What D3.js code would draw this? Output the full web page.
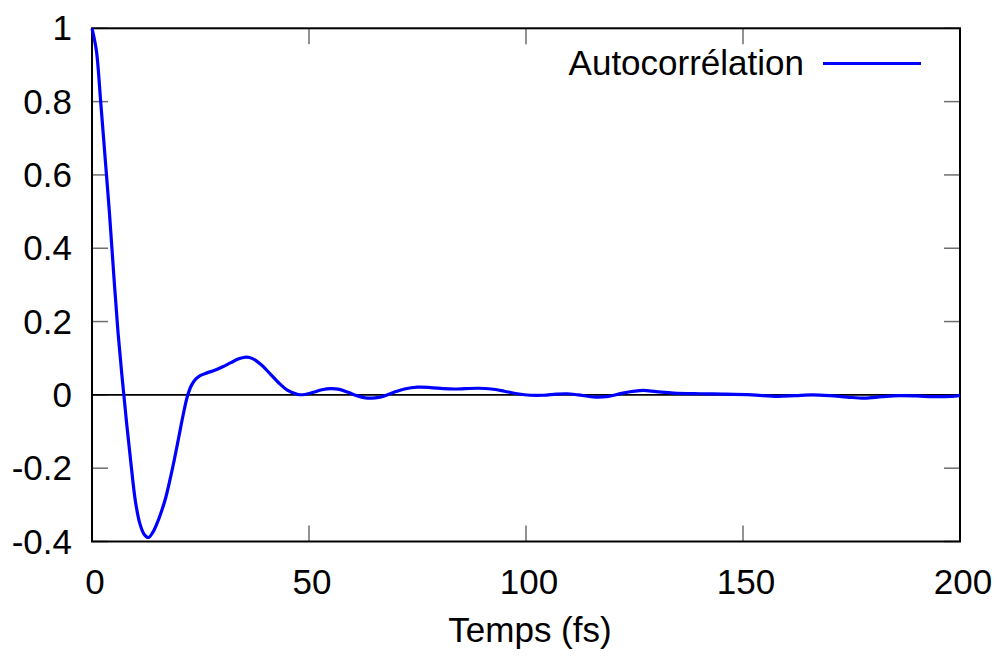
<!DOCTYPE html>
<html>
<head>
<meta charset="utf-8">
<script src="https://cdn.jsdelivr.net/npm/d3@7"></script>
<style>
  html, body { margin: 0; padding: 0; background: #fff; }
  svg { display: block; }
  text { font-family: "Liberation Sans", Arial, sans-serif; fill: #000; }
</style>
</head>
<body>
<svg id="chart" width="997" height="660"></svg>
<script>
// ---- data ----
const seriesName = "Autocorrélation";
const xTitle = "Temps (fs)";
const time = [0, 1, 2, 3, 4, 5, 6, 7, 8, 9, 10, 11, 12, 13, 14, 15, 16, 17, 18, 19, 20, 21, 22,
  23, 24, 25, 26.5, 28, 30, 32, 34, 35.6, 37, 39, 41, 43, 45, 47.5, 49, 51, 53, 55, 57, 59, 61, 63,
  64.5, 66, 68, 70, 72, 75, 78, 81, 83.5, 86, 89, 92, 95, 98, 101, 104, 107, 109.5, 112, 116, 119,
  122, 125, 127, 130, 134, 140, 146, 152, 158, 162, 166, 170, 174, 178, 182, 186, 190, 194, 198, 200];
const autocorr = [1.00, 0.94, 0.80, 0.65, 0.50, 0.33, 0.17, 0.04, -0.08, -0.19, -0.29, -0.35, -0.38, -0.389,
  -0.375, -0.35, -0.318, -0.28, -0.23, -0.175, -0.115, -0.055, -0.003,
  0.028, 0.044, 0.053, 0.06, 0.066, 0.076, 0.088, 0.099, 0.103, 0.099, 0.082, 0.058, 0.033, 0.013, 0.001,
  0.001, 0.007, 0.014, 0.017, 0.015, 0.007, -0.002, -0.008,
  -0.009, -0.007, 0.0, 0.009, 0.016, 0.021, 0.02, 0.017, 0.016, 0.017, 0.018, 0.016, 0.01, 0.003,
  -0.001, -0.001, 0.002, 0.003, 0.0, -0.006, -0.004,
  0.004, 0.01, 0.012, 0.009, 0.005, 0.003, 0.002, 0.0, -0.004, -0.002, 0.0, -0.002, -0.006, -0.009,
  -0.005, -0.002, -0.003, -0.005, -0.004, -0.002];
const xTicks = [0, 50, 100, 150, 200];
const yTicks = [-0.4, -0.2, 0, 0.2, 0.4, 0.6, 0.8, 1];

// ---- layout ----
const L = 92, R = 960, T = 28.3, B = 541.5;
const svg = d3.select("#chart");
const x = d3.scaleLinear().domain([0, 200]).range([L, R]);
const y = d3.scaleLinear().domain([-0.4, 1]).range([B, T]);
const tickLen = 16;
const tickColor = "#6e6e6e";
const fontSize = 35;

// tick marks (inside, mirrored)
const g = svg.append("g");
xTicks.forEach(v => {
  g.append("line").attr("x1", x(v)).attr("x2", x(v)).attr("y1", B).attr("y2", B - tickLen)
    .attr("stroke", tickColor).attr("stroke-width", 1.5);
  g.append("line").attr("x1", x(v)).attr("x2", x(v)).attr("y1", T).attr("y2", T + tickLen)
    .attr("stroke", tickColor).attr("stroke-width", 1.5);
});
yTicks.forEach(v => {
  g.append("line").attr("x1", L).attr("x2", L + tickLen).attr("y1", y(v)).attr("y2", y(v))
    .attr("stroke", tickColor).attr("stroke-width", 1.5);
  g.append("line").attr("x1", R).attr("x2", R - tickLen).attr("y1", y(v)).attr("y2", y(v))
    .attr("stroke", tickColor).attr("stroke-width", 1.5);
});

// zero line
svg.append("line").attr("x1", L).attr("x2", R).attr("y1", y(0)).attr("y2", y(0))
  .attr("stroke", "#000").attr("stroke-width", 1.6);

// frame
svg.append("rect").attr("x", L).attr("y", T).attr("width", R - L).attr("height", B - T)
  .attr("fill", "none").attr("stroke", "#000").attr("stroke-width", 2);

// tick labels
svg.append("g").selectAll("text").data(xTicks).join("text")
  .attr("x", d => x(d) + 3).attr("y", 594)
  .attr("text-anchor", "middle").attr("font-size", fontSize)
  .text(d => d3.format("")(d));
svg.append("g").selectAll("text").data(yTicks).join("text")
  .attr("x", 72).attr("y", d => y(d) + 12)
  .attr("text-anchor", "end").attr("font-size", fontSize)
  .text(d => d === 0 ? "0" : String(+d.toFixed(1)));

// axis title
svg.append("text").attr("x", 530).attr("y", 642).attr("text-anchor", "middle")
  .attr("font-size", fontSize).text(xTitle);

// series
const pts = time.map((t, i) => [t, autocorr[i]]);
const line = d3.line().x(d => x(d[0])).y(d => y(d[1])).curve(d3.curveCatmullRom.alpha(0.5));
svg.append("path").datum(pts).attr("d", line)
  .attr("fill", "none").attr("stroke", "#0000ff").attr("stroke-width", 3.2)
  .attr("stroke-linejoin", "round");

// legend
svg.append("text").attr("x", 804).attr("y", 75).attr("text-anchor", "end")
  .attr("font-size", fontSize).text(seriesName);
svg.append("line").attr("x1", 823).attr("x2", 921).attr("y1", 63.5).attr("y2", 63.5)
  .attr("stroke", "#0000ff").attr("stroke-width", 3.2);
</script>
</body>
</html>
